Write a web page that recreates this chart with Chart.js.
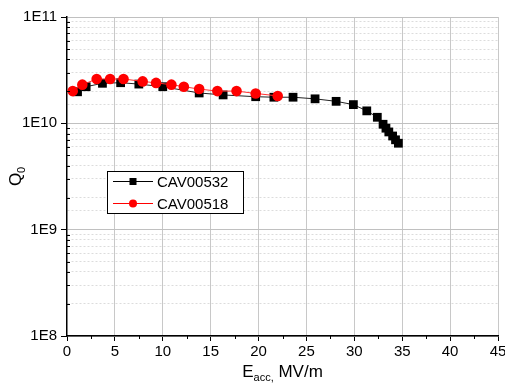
<!DOCTYPE html>
<html>
<head>
<meta charset="utf-8">
<script src="https://cdn.jsdelivr.net/npm/chart.js@4"></script>
<style>
  html, body { margin: 0; padding: 0; background: #fff; }
  #wrap { width: 505px; height: 383px; }
</style>
</head>
<body>
<div id="wrap"><canvas id="qChart" width="505" height="383"></canvas></div>
<script>
// CAV00532 (black squares)
const eBlack = [1.1, 2.0, 3.7, 5.6, 7.5, 10.0, 13.8, 16.3, 19.7, 21.6, 23.6, 25.9, 28.1, 29.9, 31.3, 32.4, 33.0, 33.3, 33.6, 34.0, 34.3, 34.6];
const qBlack = [1.98e10, 2.21e10, 2.38e10, 2.41e10, 2.34e10, 2.21e10, 1.93e10, 1.85e10, 1.78e10, 1.76e10, 1.76e10, 1.70e10, 1.61e10, 1.50e10, 1.31e10, 1.14e10, 9.8e9, 9.0e9, 8.3e9, 7.6e9, 7.0e9, 6.5e9];
// CAV00518 (red circles)
const eRed = [0.6, 1.6, 3.1, 4.5, 5.9, 7.9, 9.3, 10.9, 12.2, 13.8, 15.7, 17.7, 19.7, 22.0];
const qRed = [2.01e10, 2.31e10, 2.61e10, 2.61e10, 2.61e10, 2.48e10, 2.40e10, 2.31e10, 2.21e10, 2.10e10, 2.01e10, 2.01e10, 1.91e10, 1.81e10];

const seriesNames = ["CAV00532", "CAV00518"];
const xTickLabels = [0, 5, 10, 15, 20, 25, 30, 35, 40, 45];
const yTickLabels = ["1E8", "1E9", "1E10", "1E11"];

const FONT = "'Liberation Sans', Arial, sans-serif";

function toPoints(xs, ys) {
    return xs.map((x, i) => ({ x: x, y: ys[i] }));
}

function isDecade(v) {
    const l = Math.log10(v);
    return Math.abs(l - Math.round(l)) < 1e-6;
}

// titles, legend and minor ticks
const decorPlugin = {
    id: "decor",
    afterDraw(chart) {
        const ctx = chart.ctx;
        const area = chart.chartArea;
        const xs = chart.scales.x;
        const ys = chart.scales.y;
        ctx.save();

        // minor ticks on x (every 2.5)
        ctx.strokeStyle = "#000";
        ctx.lineWidth = 1;
        for (let v = 2.5; v < 45; v += 5) {
            const px = Math.round(xs.getPixelForValue(v)) + 0.5;
            ctx.beginPath();
            ctx.moveTo(px, area.bottom);
            ctx.lineTo(px, area.bottom + 3);
            ctx.stroke();
        }
        // minor ticks on y (inside)
        for (let e = 8; e < 11; e++) {
            for (let m = 2; m <= 9; m++) {
                const py = Math.round(ys.getPixelForValue(m * Math.pow(10, e))) + 0.5;
                ctx.beginPath();
                ctx.moveTo(area.left, py);
                ctx.lineTo(area.left + 3, py);
                ctx.stroke();
            }
        }

        // x title
        ctx.fillStyle = "#000";
        ctx.textBaseline = "alphabetic";
        ctx.textAlign = "left";
        ctx.font = "17px " + FONT;
        const wE = ctx.measureText("E").width;
        ctx.font = "11px " + FONT;
        const wSub = ctx.measureText("acc,").width;
        ctx.font = "17px " + FONT;
        const wRest = ctx.measureText(" MV/m").width;
        let tx = (area.left + area.right) / 2 - (wE + wSub + wRest) / 2;
        const ty = 377;
        ctx.fillText("E", tx, ty);
        ctx.font = "11px " + FONT;
        ctx.fillText("acc,", tx + wE, ty + 4);
        ctx.font = "17px " + FONT;
        ctx.fillText(" MV/m", tx + wE + wSub, ty);

        // y title
        ctx.save();
        ctx.translate(21, (area.top + area.bottom) / 2);
        ctx.rotate(-Math.PI / 2);
        ctx.font = "17px " + FONT;
        const wQ = ctx.measureText("Q").width;
        ctx.fillText("Q", -wQ / 2 - 3, 0);
        ctx.font = "11px " + FONT;
        ctx.fillText("0", wQ / 2 - 3, 4);
        ctx.restore();

        // legend box
        const lx = 107, ly = 171, lw = 136, lh = 42;
        ctx.fillStyle = "#fff";
        ctx.fillRect(lx, ly, lw, lh);
        ctx.strokeStyle = "#000";
        ctx.lineWidth = 1;
        ctx.strokeRect(lx + 0.5, ly + 0.5, lw, lh);
        const rows = [ly + 10.5, ly + 32.5];
        const cols = ["#000", "#ff0000"];
        seriesNames.forEach((name, i) => {
            const y = rows[i];
            ctx.strokeStyle = cols[i];
            ctx.beginPath();
            ctx.moveTo(lx + 6, y);
            ctx.lineTo(lx + 46, y);
            ctx.stroke();
            ctx.fillStyle = cols[i];
            if (i === 0) {
                ctx.fillRect(lx + 26 - 3.5, y - 3.5, 7, 7);
            } else {
                ctx.beginPath();
                ctx.arc(lx + 26, y, 4, 0, Math.PI * 2);
                ctx.fill();
            }
            ctx.fillStyle = "#000";
            ctx.font = "15px " + FONT;
            ctx.textBaseline = "middle";
            ctx.fillText(name, lx + 50, y + 1);
        });

        ctx.restore();
    }
};

const chart = new Chart(document.getElementById("qChart"), {
    type: "line",
    data: {
        datasets: [
            {
                label: seriesNames[0],
                data: toPoints(eBlack, qBlack),
                borderColor: "#222",
                backgroundColor: "#000",
                borderWidth: 1,
                pointStyle: "rect",
                pointRadius: 6.2,
                pointBorderWidth: 0,
                order: 1
            },
            {
                label: seriesNames[1],
                data: toPoints(eRed, qRed),
                borderColor: "#ff3030",
                backgroundColor: "#ff0000",
                borderWidth: 1,
                pointStyle: "circle",
                pointRadius: 5.3,
                pointBorderWidth: 0,
                order: 0
            }
        ]
    },
    options: {
        responsive: false,
        animation: false,
        layout: { padding: { top: 17, right: 7, left: 0, bottom: 0 } },
        plugins: {
            legend: { display: false },
            tooltip: { enabled: false }
        },
        scales: {
            x: {
                type: "linear",
                min: 0,
                max: 45,
                afterFit: (s) => { s.height = 47; s.paddingRight = 0; },
                afterBuildTicks: (s) => {
                    const t = [];
                    for (let v = 0; v <= 45; v += 5) t.push({ value: v });
                    s.ticks = t;
                },
                ticks: {
                    autoSkip: false,
                    maxRotation: 0,
                    padding: 2,
                    color: "#000",
                    font: { family: FONT, size: 15 },
                    callback: (v) => xTickLabels.includes(v) ? String(v) : ""
                },
                grid: {
                    color: (c) => (c.tick && c.tick.value > 0) ? "#c8c8c8" : "transparent",
                    lineWidth: 1,
                    tickLength: 5,
                    tickColor: "#000"
                },
                border: { display: true, color: "#000", width: 1.5 }
            },
            y: {
                type: "logarithmic",
                min: 1e8,
                max: 1e11,
                afterFit: (s) => { s.width = 67; },
                ticks: {
                    autoSkip: false,
                    padding: 4,
                    color: "#000",
                    font: { family: FONT, size: 15 },
                    callback: (v) => isDecade(v) ? yTickLabels[Math.round(Math.log10(v)) - 8] : ""
                },
                grid: {
                    color: (c) => {
                        if (!c.tick) return "#ccc";
                        return isDecade(c.tick.value) ? "#c0c0c0" : "#dcdcdc";
                    },
                    lineWidth: 1,
                    tickLength: 6,
                    tickColor: (c) => (c.tick && isDecade(c.tick.value)) ? "#000" : "transparent"
                },
                border: {
                    display: true,
                    color: "#000",
                    width: 1.5,
                    dash: (c) => (c.tick && !isDecade(c.tick.value)) ? [2, 2] : []
                }
            }
        }
    },
    plugins: [decorPlugin]
});
</script>
</body>
</html>
